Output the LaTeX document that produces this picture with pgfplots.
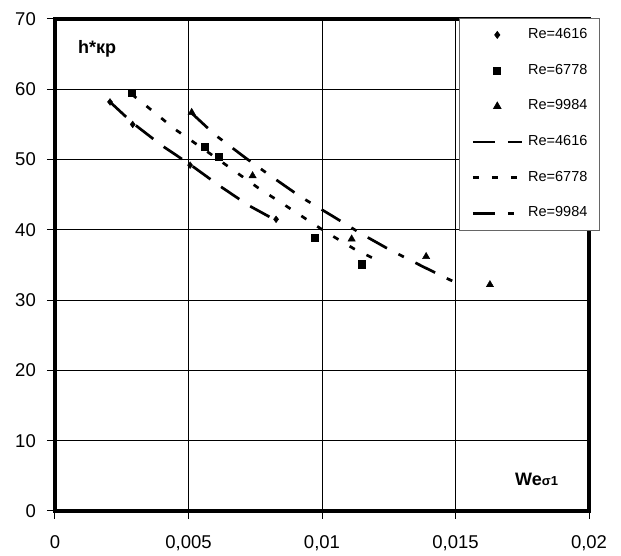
\documentclass[border=0pt]{standalone}
\usepackage{fontspec}
\setmainfont{Liberation Sans}
\usepackage{pgfplots}
\pgfplotsset{compat=1.18}

\begin{document}
\begin{tikzpicture}
\begin{axis}[
    at={(0pt,0pt)}, anchor=origin,
    width=534pt, height=492pt, scale only axis,
    xmin=0, xmax=0.02, ymin=0, ymax=70,
    xtick={0,0.005,0.01,0.015,0.02},
    xticklabels={0,{0,005},{0,01},{0,015},{0,02}},
    ytick={0,10,20,30,40,50,60,70},
    /pgf/number format/assume math mode=true,
    tick pos=left, tick align=outside,
    major tick length=8pt,
    tick style={black, line width=1pt},
    axis line style={black, line width=3.5pt},
    grid=major, major grid style={black, line width=1pt},
    tick label style={font=\fontsize{18.5}{18.5}\selectfont},
    xticklabel style={anchor=north, inner sep=0pt, yshift=-16pt},
    yticklabel style={anchor=east, inner sep=0pt, xshift=-11pt},
    legend style={
        at={(0.7566,1.002)}, anchor=north west,
        draw=black!60, line width=0.8pt, fill=white,
        inner xsep=12pt, inner ysep=10pt,
        font=\fontsize{14.5}{14.5}\selectfont,
        nodes={inner sep=0pt, text height=10pt, text depth=3pt},
        row sep=22.7pt, column sep=5pt,
    },
    legend cell align=left,
    legend image code/.code={
        \draw[mark repeat=2, mark phase=2, #1]
            plot coordinates {(0pt,0pt) (24.5pt,0pt) (49pt,0pt)};
    },
]
% measured points
\addplot[only marks, mark=diamond*, mark size=3.4pt, black] coordinates {
    (0.00206,58.2) (0.00291,55.0) (0.00506,49.2) (0.00828,41.5)
};
\addlegendentry{Re=4616}
\addplot[only marks, mark=square*, mark size=3.6pt, black] coordinates {
    (0.00287,59.5) (0.00562,51.8) (0.00612,50.4) (0.00974,38.9) (0.01149,35.1)
};
\addlegendentry{Re=6778}
\addplot[only marks, mark=triangle*, mark size=4.2pt, black] coordinates {
    (0.00512,56.7) (0.00740,47.7) (0.01111,38.7) (0.01390,36.2) (0.01629,32.2)
};
\addlegendentry{Re=9984}
% calculated curves
\addplot[no marks, black, line width=2.7pt, dash pattern=on 22pt off 13pt] coordinates {
    (0.00206,58.2) (0.00291,55.2) (0.00400,52.0) (0.00506,49.3)
    (0.00615,46.3) (0.00724,43.5) (0.00830,41.3)
};
\addlegendentry{Re=4616}
\addplot[no marks, black, line width=2.7pt, dash pattern=on 6pt off 13pt] coordinates {
    (0.00287,59.3) (0.00340,57.7) (0.00450,54.3) (0.00590,50.6)
    (0.00760,46.0) (0.00890,42.8) (0.01010,39.8) (0.01120,37.3) (0.01200,35.8)
};
\addlegendentry{Re=6778}
\addplot[no marks, black, line width=2.7pt, dash pattern=on 22pt off 13pt on 6pt off 13pt] coordinates {
    (0.00512,56.6) (0.00600,53.5) (0.00715,50.2) (0.00803,47.8)
    (0.00920,44.7) (0.01042,41.9) (0.01149,39.4) (0.01252,37.2)
    (0.01379,34.75) (0.01500,32.5)
};
\addlegendentry{Re=9984}
\node[anchor=base west, inner sep=0pt, font=\fontsize{18}{18}\selectfont\bfseries]
    at (axis cs:0.00086,65.15) {h*кр};
\node[anchor=base west, inner sep=0pt, font=\fontsize{18}{18}\selectfont\bfseries]
    at (axis cs:0.01723,3.56) {We{\fontsize{13}{13}\selectfont σ1}};
\end{axis}
\pgfresetboundingbox
\path[use as bounding box] (-55pt,-45pt) rectangle (566pt,511pt);
\end{tikzpicture}
\end{document}
